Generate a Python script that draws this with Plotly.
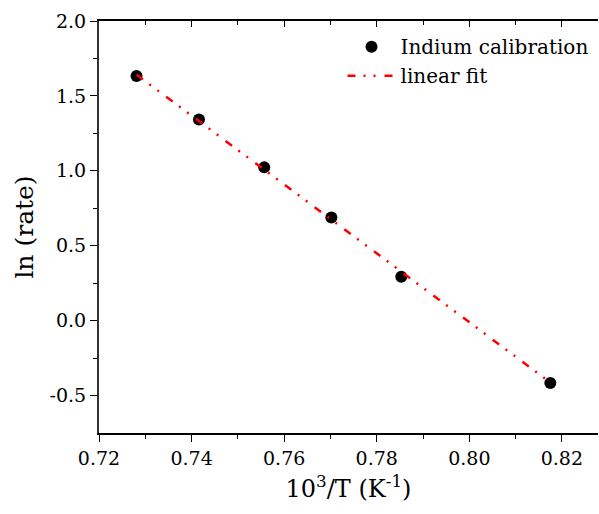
import plotly.graph_objects as go

# data
inv_T = [0.7281, 0.7416, 0.7557, 0.7702, 0.7853, 0.8175]
ln_rate = [1.633, 1.343, 1.023, 0.689, 0.293, -0.417]
fit_x = [0.7281, 0.8175]
fit_y = [1.642, -0.413]

x_major = [0.72, 0.74, 0.76, 0.78, 0.80, 0.82]
x_labels = ["0.72", "0.74", "0.76", "0.78", "0.80", "0.82"]
x_minor = [0.73, 0.75, 0.77, 0.79, 0.81]
y_major = [-0.5, 0.0, 0.5, 1.0, 1.5, 2.0]
y_labels = ["-0.5", "0.0", "0.5", "1.0", "1.5", "2.0"]
y_minor = [-0.25, 0.25, 0.75, 1.25, 1.75]

FONT = "DejaVu Serif"

fig = go.Figure()
fig.add_trace(go.Scatter(
    x=inv_T, y=ln_rate, mode="markers", name="Indium calibration",
    marker=dict(color="black", size=12, line=dict(width=0)),
))
fig.add_trace(go.Scatter(
    x=fit_x, y=fit_y, mode="lines", name="linear fit",
    line=dict(color="#ff0000", width=2.5, dash="8px,8px,2px,8px,2px,9px"),
))
# dummy trace for top axis
fig.add_trace(go.Scatter(x=[0.75], y=[0], xaxis="x2", showlegend=False,
                         mode="markers", marker=dict(opacity=0), hoverinfo="skip"))

xr = [0.72, 0.8278]
fig.update_layout(
    width=599, height=514,
    margin=dict(l=99, r=1, t=21, b=81),
    paper_bgcolor="white", plot_bgcolor="white",
    font=dict(family=FONT, size=19, color="black"),
    showlegend=True,
    legend=dict(x=0.488, y=0.985, xanchor="left", yanchor="top",
                bgcolor="rgba(0,0,0,0)", font=dict(size=20, family=FONT),
                itemwidth=48, tracegroupgap=0),
    xaxis=dict(
        range=xr, showgrid=False, zeroline=False,
        showline=True, linecolor="black", linewidth=1.5,
        ticks="outside", ticklen=7, tickwidth=1.3, tickcolor="black",
        tickvals=x_major, ticktext=x_labels,
        tickfont=dict(size=19, family=FONT),
        minor=dict(ticks="outside", ticklen=4, tickwidth=1.3, tickcolor="black",
                   tickvals=x_minor, showgrid=False),
        title=dict(text="10<sup>3</sup>/T (K<sup>-1</sup>)",
                   font=dict(size=24, family=FONT), standoff=13),
    ),
    xaxis2=dict(
        range=xr, overlaying="x", side="top", showgrid=False, zeroline=False,
        showline=True, linecolor="black", linewidth=2,
        ticks="inside", ticklen=6, tickwidth=1.3, tickcolor="black",
        tickvals=x_major, showticklabels=False,
        minor=dict(ticks="inside", ticklen=4, tickwidth=1.3, tickcolor="black",
                   tickvals=x_minor, showgrid=False),
    ),
    yaxis=dict(
        range=[-0.75, 2.0], showgrid=False, zeroline=False,
        showline=True, linecolor="#333333", linewidth=2,
        ticks="outside", ticklen=7, tickwidth=1.3, tickcolor="black",
        tickvals=y_major, ticktext=y_labels,
        tickfont=dict(size=19, family=FONT),
        minor=dict(ticks="outside", ticklen=4, tickwidth=1.3, tickcolor="black",
                   tickvals=y_minor, showgrid=False),
        title=dict(text="ln (rate)", font=dict(size=25, family=FONT), standoff=9),
    ),
)

fig.write_html("out.html")
